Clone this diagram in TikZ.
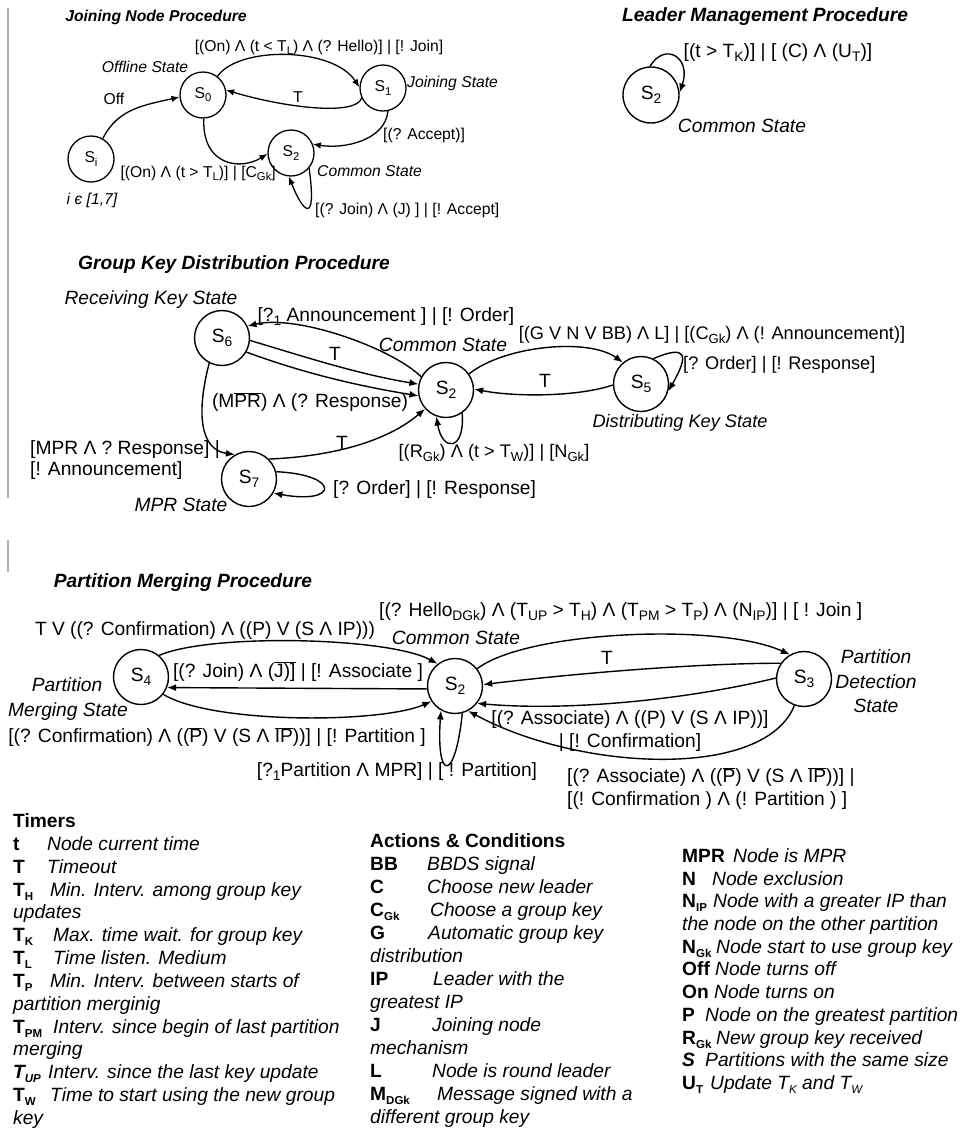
\documentclass[tikz,border=0pt]{standalone}
\usepackage{fontspec}
\usepackage{graphicx}
\setmainfont{Liberation Sans}
\usetikzlibrary{arrows.meta}
\newcommand\dga{\fontsize{15.7bp}{18bp}\selectfont}
\newcommand\dg{\fontsize{19.2bp}{22bp}\selectfont}
\newcommand\dgs{\fontsize{18.2bp}{21bp}\selectfont}
\newcommand\lgf{\fontsize{19.2bp}{22bp}\selectfont}
\newcommand\sbs[1]{\raisebox{-0.2em}{\scalebox{0.72}{#1}}}
\newcommand\lsb[1]{\raisebox{-0.2em}{\scalebox{0.6}{#1}}}
\newcommand\ovl[1]{\ensuremath{\overline{\mbox{#1}}}}
\newcommand\lrow[6]{\node[lgb] (#1a) at (#2,#3) {#4}; \node[lgi] (#1b) at (#5,#3) {#6};}
\begin{document}
\begin{tikzpicture}[x=1bp,y=-1bp,
 st/.style={circle,draw,line width=1.4bp,inner sep=0pt,font=\dg,minimum size=55bp},
 sta/.style={st,line width=1.3bp,font=\dga,minimum size=46bp},
 lb/.style={font=\dg,inner sep=0pt,text height=14bp,text depth=4.5bp},
 li/.style={lb,font=\dg\itshape},
 ls/.style={lb,font=\dgs},
 lsi/.style={lb,font=\dgs\itshape},
 la/.style={font=\dga,inner sep=0pt,text height=11.5bp,text depth=3.5bp},
 lai/.style={la,font=\dga\itshape},
 ti/.style={font=\dg\bfseries\itshape,inner sep=0pt,text height=14bp,text depth=4.5bp},
 tia/.style={font=\dga\bfseries\itshape,inner sep=0pt,text height=11.5bp,text depth=3.5bp},
 arr/.style={line width=1.4bp,-{Latex[length=9bp,width=7bp]}},
 arra/.style={line width=1.3bp,-{Latex[length=8bp,width=6.5bp]}},
 lgb/.style={font=\lgf\bfseries,inner sep=0pt,anchor=west,text height=14bp,text depth=4.5bp},
 lgi/.style={font=\lgf\itshape,inner sep=0pt,anchor=west,text height=14bp,text depth=4.5bp},
 sep/.style={draw=gray!60,line width=1.8bp}]
\fill[white] (0,0) rectangle (963,1134);
\useasboundingbox (0,0) rectangle (963,1134);
\draw[sep] (8,8) -- (8,498);
\draw[sep] (8,540) -- (8,572);
% ---------- Joining node procedure
\node[tia] (t1) at (156,17) {Joining Node Procedure};
\node[sta] (si) at (91,159) {S\sbs{i}};
\node[sta] (s0) at (203,95) {S\sbs{0}};
\node[sta] (s1) at (383,88) {S\sbs{1}};
\node[sta] (s2a) at (291,153) {S\sbs{2}};
\node[la] (la1) at (319,47) {[(On) Λ (t < T\sbs{L}) Λ (? Hello)] | [! Join]};
\node[lai] (la2) at (145,68) {Offline State};
\node[la] (la3) at (114,100) {Off};
\node[la] (la4) at (298,98) {T};
\node[lai,anchor=west] (la5) at (407,83) {Joining State};
\node[la,anchor=west] (la6) at (383,135) {[(? Accept)]};
\node[la,anchor=east] (la7) at (276,173) {[(On) Λ (t > T\sbs{L})] | [C\sbs{Gk}]};
\node[lai,anchor=west] (la8) at (317,172) {Common State};
\node[lai] (la9) at (92,200) {i є [1,7]};
\node[la,anchor=west] (la10) at (315,210) {[(? Join) Λ (J) ] | [! Accept]};
\draw[arra] (si.60) .. controls +(15,-30) and +(-35,8) .. (s0.185);
\draw[arra] (s0.52) .. controls +(20,-30) and +(-27,-41) .. (s1.178);
\draw[arra] (s1.205) .. controls +(-5,18) and +(60,18) .. (s0.12);
\draw[arra] (s0.272) .. controls +(-2,47) and +(-27,17) .. (s2a.182);
\draw[arra] (s1.282) .. controls +(-3,30) and +(30,5) .. (s2a.22);
\draw[arra] (s2a.-40) .. controls +(8,58) and +(14,36) .. (s2a.-95);
% ---------- Leader management
\node[ti] (t2) at (765,17) {Leader Management Procedure};
\node[st,minimum size=56bp] (s2b) at (651,95) {S\sbs{2}};
\node[lb] (lb1) at (778,53) {[(t > T\sbs{K})] | [ (C) Λ (U\sbs{T})]};
\node[li] (lb2) at (742,128) {Common State};
\draw[arr] (s2b.92) .. controls +(15,-25) and +(12,-35) .. (s2b.5);
% ---------- Group key distribution
\node[ti] (t3) at (234,265) {Group Key Distribution Procedure};
\node[st] (s6) at (222,338) {S\sbs{6}};
\node[st] (s2g) at (446,390) {S\sbs{2}};
\node[st] (s5) at (641,384) {S\sbs{5}};
\node[st] (s7) at (249,479) {S\sbs{7}};
\node[li] (lc1) at (151,300) {Receiving Key State};
\node[lb] (lc2) at (386,317) {[?\sbs{1} Announcement ] | [! Order]};
\node[li] (lc3) at (443,347) {Common State};
\node[lb] (lc4) at (335,356) {T};
\node[lb] (lc5) at (310,403) {(M\ovl{PR}) Λ (? Response)};
\node[lb,anchor=west] (lc6) at (30,450) {[MPR Λ ? Response] |};
\node[lb,anchor=west] (lc7) at (30,471) {[! Announcement]};
\node[li] (lc8) at (181,507) {MPR State};
\node[lb] (lc9) at (342,445) {T};
\node[lb,anchor=west] (lc10) at (333,490) {[? Order] | [! Response]};
\node[ls] (lc11) at (494,453) {[(R\sbs{Gk}) Λ (t > T\sbs{W})] | [N\sbs{Gk}]};
\node[ls] (lc12) at (712,335) {[(G V N V BB) Λ L] | [(C\sbs{Gk}) Λ (! Announcement)]};
\node[ls,anchor=west] (lc13) at (683,365) {[? Order] | [! Response]};
\node[lsi] (lc14) at (680,423) {Distributing Key State};
\node[lb] (lc15) at (545,383) {T};
\draw[arr] (s2g.152) .. controls +(-28,-28) and +(50,-12) .. (s6.25);
\draw[arr] (s6.-5) .. controls +(60,18) and +(-60,-10) .. (s2g.168);
\draw[arr] (s6.-30) .. controls +(60,22) and +(-60,-10) .. (s2g.192);
\draw[arr] (s6.243) .. controls +(-13,50) and +(-35,-5) .. (s7.120);
\draw[arr] (s7.45) .. controls +(70,-3) and +(-35,30) .. (s2g.222);
\draw[arr] (s7.15) .. controls +(65,3) and +(65,12) .. (s7.-30);
\draw[arr] (s2g.-55) .. controls +(3,38) and +(6,36) .. (s2g.-110);
\draw[arr] (s2g.35) .. controls +(35,-28) and +(-35,-25) .. (s5.130);
\draw[arr] (s5.182) .. controls +(-35,12) and +(40,8) .. (s2g.2);
\draw[arr] (s5.64) .. controls +(35,-15) and +(20,-35) .. (s5.-15);
% ---------- Partition merging
\node[ti] (t4) at (183,583) {Partition Merging Procedure};
\node[st] (s4) at (141,677) {S\sbs{4}};
\node[st] (s2p) at (455,686) {S\sbs{2}};
\node[st] (s3) at (804,679) {S\sbs{3}};
\node[lb,anchor=west] (ld1) at (379,612) {[(? Hello\sbs{DGk}) Λ (T\sbs{UP} > T\sbs{H}) Λ (T\sbs{PM} > T\sbs{P}) Λ (N\sbs{IP})] | [ ! Join ]};
\node[lb] (ld2) at (205,631) {T V ((? Confirmation) Λ ((P) V (S Λ IP)))};
\node[li] (ld3) at (456,640) {Common State};
\node[lb] (ld4) at (298,673) {[(? Join) Λ (\ovl{J)]} | [! Associate ]};
\node[li] (ld5) at (67,687) {Partition};
\node[li] (ld6) at (68,712) {Merging State};
\node[lb] (ld7) at (217,738) {[(? Confirmation) Λ ((\ovl{P}) V (S Λ \ovl{IP}))] | [! Partition ]};
\node[lb] (ld8) at (397,772) {[?\sbs{1}Partition Λ MPR] | [ ! Partition]};
\node[lb] (ld9) at (630,720) {[(? Associate) Λ ((P) V (S Λ IP))]};
\node[lb] (ld10) at (630,743) {| [! Confirmation]};
\node[lb,anchor=west] (ld11) at (567,778) {[(? Associate) Λ ((\ovl{P}) V (S Λ \ovl{IP}))] |};
\node[lb,anchor=west] (ld12) at (567,801) {[(! Confirmation ) Λ (! Partition ) ]};
\node[li] (ld13) at (876,659) {Partition};
\node[li] (ld14) at (876,684) {Detection};
\node[li] (ld15) at (876,708) {State};
\node[lb] (ld16) at (607,660) {T};
\draw[arr] (s4.50) .. controls +(50,-22) and +(-50,-27) .. (s2p.128);
\draw[arr] (s2p.186) -- (s4.-22);
\draw[arr] (s4.-38) .. controls +(50,30) and +(-50,22) .. (s2p.213);
\draw[arr] (s2p.-75) .. controls +(-7,69) and +(-5,72) .. (s2p.-120);
\draw[arr] (s2p.38) .. controls +(50,-38) and +(-70,-32) .. (s3.120);
\draw[arr] (s3.146) .. controls +(-80,0) and +(100,-12) .. (s2p.3);
\draw[arr] (s3.178) .. controls +(-90,22) and +(90,8) .. (s2p.-38);
\draw[arr] (s3.-110) .. controls +(-30,75) and +(110,60) .. (s2p.-62);
% ---------- Legend
\node[lgb] (ha) at (13,823) {Timers};
\lrow{a1}{13}{846}{t}{47}{Node current time}
\lrow{a2}{13}{869}{T}{47}{Timeout}
\lrow{a3}{13}{892}{T\lsb{H}}{50}{Min. Interv. among group key}
\node[lgi] (a3c) at (13,914) {updates};
\lrow{a4}{13}{937}{T\lsb{K}}{53}{Max. time wait. for group key}
\lrow{a5}{13}{960}{T\lsb{L}}{53}{Time listen. Medium}
\lrow{a6}{13}{983}{T\lsb{P}}{50}{Min. Interv. between starts of}
\node[lgi] (a6c) at (13,1006) {partition merginig};
\lrow{a7}{13}{1029}{T\lsb{PM}}{53}{Interv. since begin of last partition}
\node[lgi] (a7c) at (13,1051) {merging};
\lrow{a8}{13}{1074}{\itshape T\lsb{UP}}{48}{Interv. since the last key update}
\lrow{a9}{13}{1097}{T\lsb{W}}{50}{Time to start using the new group}
\node[lgi] (a9c) at (13,1120) {key};
\node[lgb] (hb) at (370,843) {Actions \& Conditions};
\lrow{b1}{370}{866}{BB}{427}{BBDS signal}
\lrow{b2}{370}{889}{C}{427}{Choose new leader}
\lrow{b3}{370}{912}{C\lsb{Gk}}{430}{Choose a group key}
\lrow{b4}{370}{935}{G}{428}{Automatic group key}
\node[lgi] (b4c) at (370,958) {distribution};
\lrow{b5}{370}{981}{IP}{433}{Leader with the}
\node[lgi] (b5c) at (370,1004) {greatest IP};
\lrow{b6}{370}{1027}{J}{432}{Joining node}
\node[lgi] (b6c) at (370,1050) {mechanism};
\lrow{b7}{370}{1073}{L}{432}{Node is round leader}
\lrow{b8}{370}{1096}{M\lsb{DGk}}{437}{Message signed with a}
\node[lgi] (b8c) at (370,1119) {different group key};
\lrow{c1}{682}{858}{MPR}{733}{Node is MPR}
\lrow{c2}{682}{881}{N}{712}{Node exclusion}
\lrow{c3}{682}{903}{N\lsb{IP}}{713}{Node with a greater IP than}
\node[lgi] (c3c) at (682,926) {the node on the other partition};
\lrow{c4}{682}{949}{N\lsb{Gk}}{716}{Node start to use group key}
\lrow{c5}{682}{971}{Off}{715}{Node turns off}
\lrow{c6}{682}{994}{On}{714}{Node turns on}
\lrow{c7}{682}{1017}{P}{705}{Node on the greatest partition}
\lrow{c8}{682}{1040}{R\lsb{Gk}}{716}{New group key received}
\lrow{c9}{682}{1062}{\itshape S}{705}{Partitions with the same size}
\lrow{c10}{682}{1085}{U\lsb{T}}{710}{Update T\lsb{K} and T\lsb{W}}
\end{tikzpicture}
\end{document}
